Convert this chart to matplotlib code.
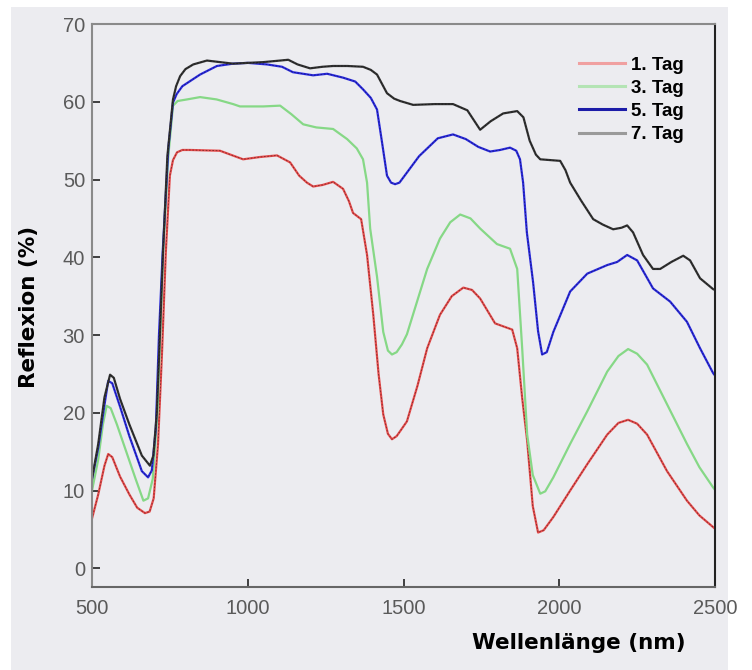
import matplotlib
matplotlib.use("Agg")
from matplotlib import pyplot as plt
from matplotlib.lines import Line2D
from matplotlib.patches import Rectangle

# --- DATOS ---
wl_tag1 = [500, 520, 540, 552, 565, 590, 620, 645, 670, 685, 698, 712, 725, 737, 750, 760, 773,
           790, 815, 911, 985, 1040, 1094, 1136, 1165, 1190, 1210, 1240, 1274, 1306, 1325,
           1338, 1364, 1383, 1403, 1420, 1435, 1450, 1463, 1478, 1492, 1511, 1545, 1576, 1617,
           1655, 1692, 1720, 1746, 1794, 1849, 1865, 1881, 1897, 1915, 1932, 1950, 1981, 2035,
           2090, 2154, 2190, 2221, 2250, 2282, 2346, 2410, 2450, 2494, 2500]
r_tag1 = [6.4, 9.5, 13.2, 14.7, 14.3, 11.8, 9.5, 7.8, 7.1, 7.3, 9.0, 16.0, 28.0, 40.7, 50.5, 52.5, 53.5,
          53.8, 53.8, 53.7, 52.6, 52.9, 53.1, 52.2, 50.5, 49.6, 49.1, 49.3, 49.7, 48.8, 47.2,
          45.7, 44.9, 40.3, 32.6, 25.0, 19.8, 17.3, 16.6, 17.0, 17.8, 18.9, 23.5, 28.3, 32.6,
          35.0, 36.1, 35.8, 34.7, 31.5, 30.7, 28.3, 21.9, 16.4, 8.0, 4.6, 4.9, 6.6, 10.0,
          13.4, 17.2, 18.7, 19.1, 18.6, 17.2, 12.5, 8.7, 6.8, 5.3, 5.1]

wl_tag3 = [500, 520, 535, 547, 560, 580, 610, 640, 665, 680, 695, 710, 728, 745, 760, 775, 805,
           847, 900, 953, 975, 1050, 1104, 1140, 1178, 1220, 1274, 1319, 1350, 1370, 1383,
           1393, 1415, 1435, 1450, 1463, 1478, 1495, 1511, 1545, 1576, 1617, 1650, 1682, 1715,
           1746, 1800, 1842, 1865, 1881, 1897, 1915, 1939, 1955, 1981, 2035, 2090, 2154, 2190,
           2221, 2250, 2282, 2346, 2410, 2450, 2494, 2500]
r_tag3 = [10.0, 14.0, 18.5, 20.9, 20.6, 18.5, 15.0, 11.5, 8.7, 9.0, 11.5, 20.0, 40.7, 53.0, 59.5, 60.1, 60.3,
          60.6, 60.3, 59.7, 59.4, 59.4, 59.5, 58.4, 57.1, 56.7, 56.5, 55.2, 54.0, 52.6, 49.6,
          43.7, 37.5, 30.4, 28.0, 27.5, 27.8, 28.8, 30.1, 34.5, 38.5, 42.4, 44.5, 45.5, 45.0,
          43.7, 41.7, 41.1, 38.5, 28.3, 17.2, 12.0, 9.6, 9.9, 11.7, 16.0, 20.2, 25.3, 27.3,
          28.2, 27.6, 26.2, 21.1, 16.0, 13.0, 10.4, 10.1]

wl_tag5 = [500, 520, 540, 552, 565, 590, 620, 660, 680, 692, 705, 715, 727, 745, 760, 772, 790,
           847, 901, 953, 1000, 1062, 1110, 1145, 1210, 1255, 1306, 1345, 1370, 1395, 1415,
           1431, 1447, 1460, 1473, 1487, 1500, 1550, 1610, 1659, 1700, 1740, 1778, 1810, 1842,
           1862, 1874, 1884, 1896, 1916, 1932, 1945, 1960, 1981, 2035, 2090, 2154, 2186, 2218,
           2250, 2301, 2356, 2410, 2452, 2494, 2500]
r_tag5 = [11.5, 15.5, 21.0, 24.1, 23.8, 20.8, 17.0, 12.5, 11.7, 12.6, 18.0, 30.0, 40.7, 54.0, 59.9, 61.0, 62.0,
          63.5, 64.6, 64.9, 65.0, 64.8, 64.5, 63.8, 63.4, 63.6, 63.1, 62.6, 61.6, 60.5, 59.0,
          54.8, 50.5, 49.6, 49.4, 49.6, 50.3, 53.0, 55.3, 55.8, 55.2, 54.2, 53.6, 53.8, 54.1,
          53.7, 52.6, 49.6, 43.2, 36.8, 30.5, 27.5, 27.8, 30.4, 35.6, 37.9, 39.0, 39.4, 40.3,
          39.6, 36.0, 34.3, 31.7, 28.3, 25.1, 24.8]

wl_tag7 = [500, 520, 540, 558, 570, 590, 620, 660, 686, 697, 708, 718, 728, 742, 760, 770, 783,
           800, 825, 869, 911, 953, 1000, 1050, 1104, 1130, 1160, 1200, 1240, 1274, 1320, 1370,
           1395, 1415, 1447, 1470, 1489, 1531, 1600, 1659, 1705, 1746, 1780, 1820, 1865, 1885,
           1905, 1925, 1939, 2003, 2020, 2035, 2070, 2109, 2140, 2173, 2200, 2218, 2237, 2269,
           2301, 2324, 2360, 2398, 2420, 2452, 2494, 2500]
r_tag7 = [11.5, 16.0, 22.0, 24.9, 24.5, 21.8, 18.5, 14.5, 13.2, 14.5, 20.0, 30.0, 40.7, 53.0, 60.3, 62.0, 63.3,
          64.2, 64.8, 65.3, 65.1, 64.9, 65.0, 65.1, 65.3, 65.4, 64.8, 64.3, 64.5, 64.6, 64.6, 64.5,
          64.1, 63.5, 61.1, 60.4, 60.1, 59.6, 59.7, 59.7, 58.9, 56.4, 57.5, 58.5, 58.8, 58.0,
          55.0, 53.2, 52.6, 52.4, 51.2, 49.6, 47.3, 44.9, 44.2, 43.6, 43.8, 44.1, 43.2, 40.3,
          38.5, 38.5, 39.4, 40.2, 39.6, 37.3, 35.9, 35.8]

etiquetas = ["1. Tag", "3. Tag", "5. Tag", "7. Tag"]
colores = ["#e64c4c", "#86d886", "#2b2be0", "#333333"]
colores_leyenda = ["#f0a0a0", "#b4e4b4", "#1c1ca8", "#9a9a9a"]

fondo = "#ececf0"

fig = plt.figure(figsize=(7.52, 6.7), dpi=100)
fig.patch.set_facecolor("white")
fig.patches.append(Rectangle((11 / 752, 0), 717 / 752, 1 - 7 / 670,
                             transform=fig.transFigure, facecolor=fondo,
                             edgecolor="none", zorder=-10))

ax = fig.add_axes([92 / 752, 1 - 587 / 670, 623 / 752, 563 / 670])
ax.set_facecolor(fondo)

series = [(wl_tag1, r_tag1), (wl_tag3, r_tag3), (wl_tag5, r_tag5), (wl_tag7, r_tag7)]
for i, (wl, r) in enumerate(series):
    ax.plot(wl, r, color=colores[i], linewidth=1.6, solid_joinstyle="round")
    if i != 1:
        # trazo oscuro discontinuo como en el original
        ax.plot(wl, r, color="black", linewidth=0.6, linestyle=(0, (2, 2)), alpha=0.45)

ax.set_xlim(500, 2500)
ax.set_ylim(-2.4, 70)
ax.set_xticks([500, 1000, 1500, 2000, 2500])
ax.set_yticks([0, 10, 20, 30, 40, 50, 60, 70])

ax.tick_params(axis="both", direction="in", length=6, width=1.2, color="#222222",
               labelsize=14.5, labelcolor="#5a5a5a")
ax.tick_params(axis="x", pad=9)
ax.tick_params(axis="y", pad=5)
for lab in ax.get_xticklabels() + ax.get_yticklabels():
    lab.set_family("Liberation Sans")

for lado, col in [("left", "#8a8a8a"), ("top", "#8a8a8a"), ("bottom", "#666666"), ("right", "#222222")]:
    ax.spines[lado].set_color(col)
    ax.spines[lado].set_linewidth(1.5)

ax.set_xlabel("Wellenlänge (nm)", fontsize=15.5, fontweight="bold", family="DejaVu Sans")
ax.xaxis.set_label_coords(0.782, -0.082)
ax.set_ylabel("Reflexion (%)", fontsize=15.5, fontweight="bold", family="DejaVu Sans")
ax.yaxis.set_label_coords(-0.085, 0.497)

handles = [Line2D([0], [0], color=c, linewidth=2.2) for c in colores_leyenda]
leg = ax.legend(handles, etiquetas, loc="upper right", bbox_to_anchor=(0.977, 0.972),
                frameon=False, handlelength=2.5, handletextpad=0.3, labelspacing=0.32,
                prop={"family": "Liberation Sans", "weight": "bold", "size": 13.5})

fig.savefig("out.png", dpi=100, facecolor=fig.get_facecolor())
